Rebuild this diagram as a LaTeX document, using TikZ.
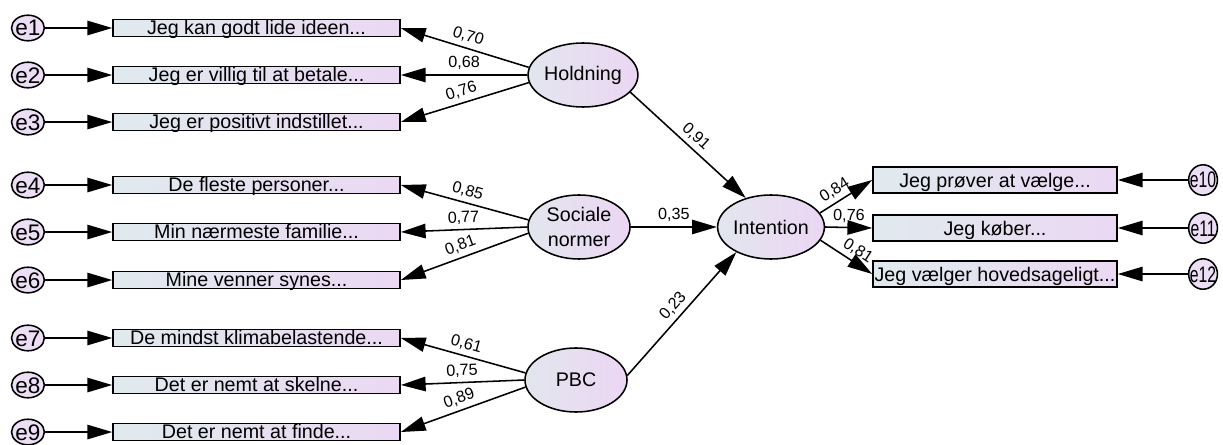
\documentclass[tikz,border=0pt]{standalone}
\usepackage{fontspec}
\setmainfont{Liberation Sans}
\usetikzlibrary{shapes,arrows.meta}
\definecolor{boxleft}{RGB}{224,234,238}
\definecolor{boxright}{RGB}{235,216,243}
\definecolor{latleft}{RGB}{226,230,238}
\definecolor{latright}{RGB}{236,214,243}
\definecolor{errfill}{RGB}{236,222,245}
\newcommand{\errtext}[1]{\makebox[0pt][c]{#1}}
\newcommand{\errtextr}[1]{\makebox[0pt][c]{\scalebox{0.7}[1]{#1}}}

\begin{document}
\begin{tikzpicture}
      [x=0.025cm, y=-0.025cm, >={Triangle[length=0.62cm,width=0.36cm]},
      conn/.style={line width=1.1pt},
      item/.style={rectangle, draw, line width=1.1pt, left color=boxleft, right color=boxright,
        minimum width=7.175cm, minimum height=0.425cm, inner xsep=0pt, inner ysep=0pt,
        text height=0.375cm, text depth=0.05cm, font=\fontsize{14}{16}\selectfont},
      outitem/.style={item, minimum width=6.1cm, minimum height=0.65cm,
        text height=0.5cm, text depth=0.15cm},
      latent/.style={ellipse, draw, line width=1.1pt, left color=latleft, right color=latright,
        minimum width=2.55cm, minimum height=1.6cm, inner sep=0pt, align=center,
        font=\fontsize{14}{18}\selectfont},
      errl/.style={ellipse, draw, line width=1.1pt, fill=errfill, minimum width=0.82cm,
        minimum height=0.64cm, inner sep=0pt, text height=0.4cm, text depth=0cm,
        font=\fontsize{16}{18}\selectfont},
      errr/.style={errl, minimum width=0.72cm, minimum height=0.76cm},
      load/.style={sloped, above, inner sep=3pt, font=\fontsize{11.5}{13}\selectfont}]
      \useasboundingbox (0,0) rectangle (1223,445);
      % Latent variables
      \node [latent] (hold) at (583,75) {Holdning};
      \node [latent] (soc) at (579,227) {Sociale\\normer};
      \node [latent] (pbc) at (576,380) {PBC};
      \node [latent] (int) at (771,227) {Intention};
      % Indicators
      \node [item] (b1) at (256.5,28) {Jeg kan godt lide ideen...};
      \node [item, below of=b1, node distance=1.175cm] (b2) {Jeg er villig til at betale...};
      \node [item, below of=b2, node distance=1.175cm] (b3) {Jeg er positivt indstillet...};
      \node [item] (b4) at (256.5,185) {De fleste personer...};
      \node [item, below of=b4, node distance=1.175cm] (b5) {Min nærmeste familie...};
      \node [item, below of=b5, node distance=1.2cm] (b6) {Mine venner synes...};
      \node [item] (b7) at (256.5,338) {De mindst klimabelastende...};
      \node [item, below of=b7, node distance=1.175cm] (b8) {Det er nemt at skelne...};
      \node [item, below of=b8, node distance=1.175cm] (b9) {Det er nemt at finde...};
      \node [outitem] (b10) at (995,180) {Jeg prøver at vælge...};
      \node [outitem, below of=b10, node distance=1.2cm] (b11) {Jeg køber...};
      \node [outitem, below of=b11, node distance=1.15cm] (b12) {Jeg vælger hovedsageligt...};
      % Error terms
      \foreach \i in {1,...,9}
        \node [errl, left of=b\i, node distance=5.7125cm] (e\i) {\errtext{e\i}};
      \foreach \i in {10,11,12}
        \node [errr, right of=b\i, node distance=5.2cm] (e\i) {\errtextr{e\i}};
      % Draw edges
      \foreach \i in {1,...,9}
        \draw [->, conn] (e\i) -- (b\i);
      \foreach \i in {10,11,12}
        \draw [->, conn] (e\i) -- (b\i);
      \draw [->, conn] (hold.172) -- node [load] {0,70} (b1.east);
      \draw [->, conn] (hold.180) -- node [load] {0,68} (b2.east);
      \draw [->, conn] (hold.188) -- node [load] {0,76} (b3.east);
      \draw [->, conn] (soc.172) -- node [load] {0,85} (b4.east);
      \draw [->, conn] (soc.180) -- node [load] {0,77} (b5.east);
      \draw [->, conn] (soc.187) -- node [load] {0,81} (b6.east);
      \draw [->, conn] (pbc.172) -- node [load] {0,61} (b7.east);
      \draw [->, conn] (pbc.180) -- node [load] {0,75} (b8.east);
      \draw [->, conn] (pbc.188) -- node [load] {0,89} (b9.east);
      \draw [->, conn] (hold.-20) -- node [load] {0,91} (int.131);
      \draw [->, conn] (soc.east) -- node [load] {0,35} (int.west);
      \draw [->, conn] (pbc.5) -- node [load] {0,23} (int.216);
      \draw [->, conn] (int.16) -- node [load, pos=0.4] {0,84} (b10.west);
      \draw [->, conn] (int.east) -- node [load] {0,76} (b11.west);
      \draw [->, conn] (int.-15) -- node [load, pos=0.6] {0,81} (b12.west);
\end{tikzpicture}
\end{document}
